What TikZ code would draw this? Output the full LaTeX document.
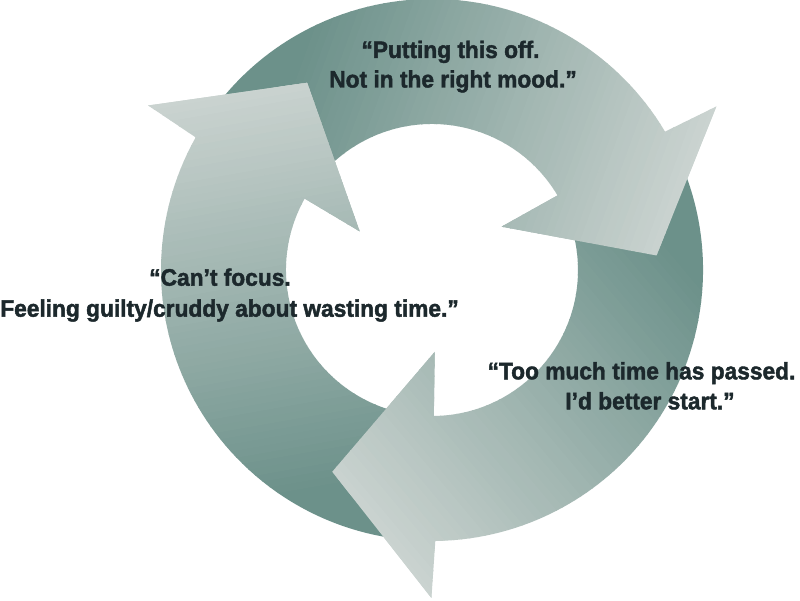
\documentclass[tikz,border=0pt]{standalone}
\usepackage{fontspec}
\setmainfont{Liberation Sans}[FakeStretch=0.955, BoldFeatures={FakeBold=1.8}]
\definecolor{ringdark}{RGB}{108,145,138}
\definecolor{ringlight}{RGB}{204,212,209}
\definecolor{quotetext}{RGB}{28,40,44}
% one arrow of the cycle, drawn in the frame of the top arrow
\newcommand\cycbody{(148.7:271) arc[start angle=148.7, end angle=30.7, radius=271pt] -- (29.9:328) -- (3.7:225) -- (31.9:82) -- (30.7:146) arc[start angle=30.7, end angle=148.7, radius=146pt] -- cycle}
\newcommand\cychead{(29.9:328) -- (3.7:225) -- (31.9:82) -- cycle}
\newcommand\cycbands{%
  \foreach \i in {0,...,59}{%
    \pgfmathsetmacro\bandA{\i==0 ? -700 : -200+\i*7}%
    \pgfmathsetmacro\bandB{\i==59 ? 700 : -200+\i*7+7.8}%
    \pgfmathtruncatemacro\bandP{round(100*\i/59)}%
    \fill[ringlight!\bandP!ringdark, rotate=-20] (\bandA,-700) rectangle (\bandB,700);
  }%
}
\tikzset{quote/.style={font=\bfseries\fontsize{23.8}{28}\selectfont, text=quotetext, inner sep=0pt, anchor=base}}
\begin{document}
\begin{tikzpicture}[x=1pt,y=1pt]
\useasboundingbox (0,0) rectangle (800,600);
\fill[white] (0,0) rectangle (800,600);
\begin{scope}[shift={(432,330)}]
  \foreach \cycrot in {0,-120,120}{%
    \begin{scope}[rotate=\cycrot]
      \clip \cycbody;
      \cycbands
    \end{scope}
  }
  \foreach \cycrot in {0,-120,120}{%
    \begin{scope}[rotate=\cycrot]
      \clip \cychead;
      \cycbands
    \end{scope}
  }
\end{scope}
\node[quote] (q1a) at (450.5,542) {“Putting this off.};
\node[quote] (q1b) at (453,512.5) {Not in the right mood.”};
\node[quote] (q2a) at (220,314.3) {“Can’t focus.};
\node[quote] (q2b) at (229.5,283.3) {Feeling guilty/cruddy about wasting time.”};
\node[quote] (q3a) at (641.5,220.7) {“Too much time has passed.};
\node[quote] (q3b) at (650,190.7) {I’d better start.”};
\end{tikzpicture}
\end{document}
